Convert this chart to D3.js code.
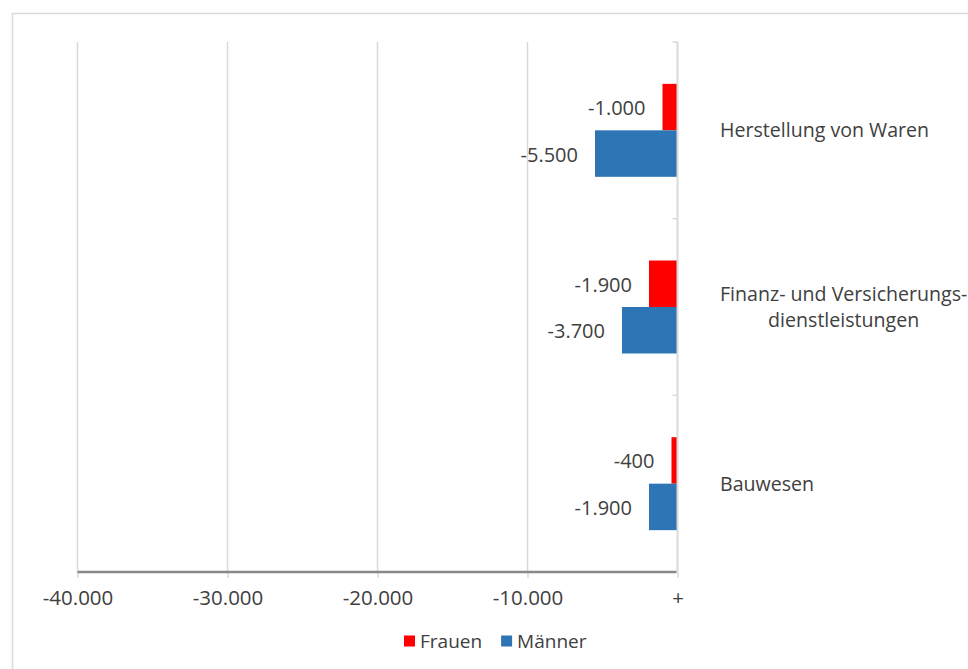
<!DOCTYPE html>
<html>
<head>
<meta charset="utf-8">
<script src="https://cdn.jsdelivr.net/npm/d3@7"></script>
<style>
  html, body { margin: 0; padding: 0; background: #fff; }
  svg { display: block; font-family: "Open Sans", "Noto Sans", sans-serif; }
</style>
</head>
<body>
<svg id="chart" width="968" height="669"></svg>
<script>
// Job changes by sector, women vs. men
const categories = ["Herstellung von Waren", "Finanz- und Versicherungs-\ndienstleistungen", "Bauwesen"];
const seriesNames = ["Frauen", "Männer"];
const frauen = [-1000, -1900, -400];
const maenner = [-5500, -3700, -1900];
const xTicks = [-40000, -30000, -20000, -10000, 0];
const colors = ["#ff0000", "#2e75b6"];

const values = [frauen, maenner];
const rows = categories.map((c, i) => ({
  cat: c,
  vals: seriesNames.map((s, k) => ({ series: s, value: values[k][i] }))
}));

const de = d3.formatLocale({ decimal: ",", thousands: ".", grouping: [3], currency: ["", " €"], minus: "-" });
const fmt = de.format(",.0f");
const tickFmt = d => d === 0 ? "+" : fmt(d);

const svg = d3.select("#chart");
const textColor = "#404040";

// Chart frame
svg.append("rect")
  .attr("x", 12.5).attr("y", 13.5)
  .attr("width", 1000).attr("height", 1000)
  .attr("fill", "none").attr("stroke", "#d9d9d9").attr("stroke-width", 1.5);

const plotTop = 42, plotBottom = 572;
const x = d3.scaleLinear().domain([-40000, 0]).range([77.5, 677.5]);
const y0 = d3.scaleBand().domain(categories).range([plotTop, plotBottom]).padding(0);
const y1 = d3.scaleBand().domain(seriesNames).range([0, y0.bandwidth()]).paddingInner(0).paddingOuter(0.9);
const color = d3.scaleOrdinal().domain(seriesNames).range(colors);

// Vertical gridlines
svg.append("g").selectAll("line").data(xTicks.filter(d => d !== 0)).join("line")
  .attr("x1", d => x(d)).attr("x2", d => x(d))
  .attr("y1", plotTop).attr("y2", plotBottom)
  .attr("stroke", "#d9d9d9").attr("stroke-width", 1.5);

// Bars
const groups = svg.append("g").selectAll("g").data(rows).join("g")
  .attr("transform", d => `translate(0,${y0(d.cat)})`);

groups.selectAll("rect").data(d => d.vals).join("rect")
  .attr("x", d => x(d.value))
  .attr("width", d => x(0) - x(d.value))
  .attr("y", d => y1(d.series))
  .attr("height", y1.bandwidth())
  .attr("fill", d => color(d.series));

// Value labels
groups.selectAll("text").data(d => d.vals).join("text")
  .attr("x", d => x(d.value) - 17)
  .attr("y", d => y1(d.series) + y1.bandwidth() / 2 + 1)
  .attr("dy", "0.35em")
  .attr("text-anchor", "end")
  .attr("font-size", 20)
  .attr("fill", textColor)
  .text(d => fmt(d.value));

// Category axis at zero
const catAxis = svg.append("g");
catAxis.append("line")
  .attr("x1", x(0)).attr("x2", x(0))
  .attr("y1", plotTop).attr("y2", plotBottom)
  .attr("stroke", "#d9d9d9").attr("stroke-width", 2);
const bounds = categories.map(c => y0(c));
catAxis.selectAll("line.tick").data(bounds).join("line")
  .attr("class", "tick")
  .attr("x1", x(0) - 5).attr("x2", x(0))
  .attr("y1", d => d).attr("y2", d => d)
  .attr("stroke", "#d9d9d9").attr("stroke-width", 1.5);

// Category labels: block left-aligned, lines centred within the block
const labelX = 720;
rows.forEach(r => {
  const lines = r.cat.split("\n");
  const cy = y0(r.cat) + y0.bandwidth() / 2;
  const lh = 26;
  const texts = lines.map((ln, i) => svg.append("text")
    .attr("font-size", 19.6)
    .attr("fill", textColor)
    .attr("text-anchor", "middle")
    .attr("y", cy + (i - (lines.length - 1) / 2) * lh)
    .attr("dy", "0.35em")
    .text(ln));
  const w = d3.max(texts, t => t.node().getComputedTextLength());
  texts.forEach(t => t.attr("x", labelX + w / 2));
});

// Value axis
const xAxis = d3.axisBottom(x).tickValues(xTicks).tickFormat(tickFmt).tickSize(6).tickPadding(12);
const gx = svg.append("g").attr("transform", `translate(0,${plotBottom})`).call(xAxis);
gx.select(".domain").remove();
gx.selectAll(".tick line").attr("stroke", "#d9d9d9").attr("stroke-width", 1.5);
gx.selectAll(".tick text").attr("font-size", 20.5).attr("fill", textColor)
  .attr("font-family", "\"Open Sans\", sans-serif");
svg.append("line")
  .attr("x1", x(-40000)).attr("x2", x(0) - 1)
  .attr("y1", plotBottom).attr("y2", plotBottom)
  .attr("stroke", "#898989").attr("stroke-width", 2.5);

// Legend
const legend = svg.append("g").attr("transform", "translate(404,641)");
let lx = 0;
seriesNames.forEach((s, i) => {
  const g = legend.append("g").attr("transform", `translate(${lx},0)`);
  g.append("rect").attr("x", 0).attr("y", -5.5).attr("width", 11).attr("height", 11).attr("fill", color(s));
  const t = g.append("text").attr("x", 16).attr("dy", "0.35em")
    .attr("font-size", 19).attr("fill", textColor).text(s);
  lx += 16 + t.node().getComputedTextLength() + 19;
});
</script>
</body>
</html>
